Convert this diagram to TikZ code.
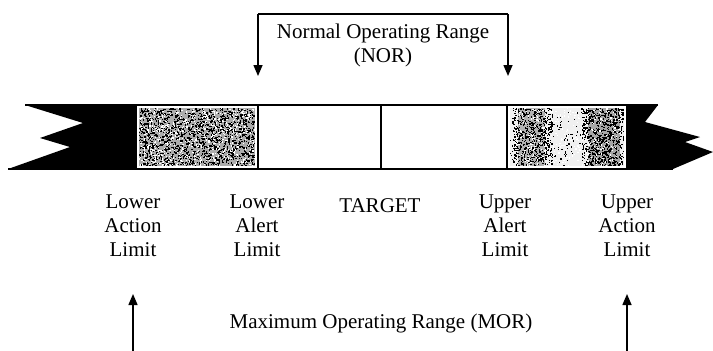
\documentclass[tikz,border=0pt]{standalone}
\usepackage{fontspec}
\setmainfont{Liberation Serif}
\usetikzlibrary{arrows.meta}
\begin{document}
\begin{tikzpicture}[x=1pt,y=-1pt,
  lbl/.style={align=center,font=\fontsize{21}{24}\selectfont,inner sep=0pt},
  arr/.style={line width=1.5pt,-{Triangle[length=11pt,width=9pt]}},
  zone/.style={draw,line width=1.2pt,minimum height=64pt,inner sep=0pt,outer sep=0pt},
  barline/.style={line width=1.2pt}]
\useasboundingbox (0,0) rectangle (713,351);
% black ends
\fill (25,105) -- (136,105) -- (136,169) -- (8,169) -- (70,147) -- (40,138) -- (83,123) -- cycle;
\fill (627,105) -- (658,105) -- (645,122) -- (700,137) -- (685,142) -- (713,152) -- (673,169) -- (627,169) -- cycle;
% shaded left box
\fill[gray!65] (139,108) rectangle (255,166);
\pgfmathsetseed{42}
\foreach \i in {1,...,1600}{\pgfmathsetmacro\xx{139+115*rnd}\pgfmathsetmacro\yy{108+57*rnd}\fill[black] (\xx,\yy) rectangle ++(1.3,1.3);}
\foreach \i in {1,...,600}{\pgfmathsetmacro\xx{139+115*rnd}\pgfmathsetmacro\yy{108+57*rnd}\fill[white] (\xx,\yy) rectangle ++(1.2,1.2);}
% shaded right box
\fill[gray!12] (510,108) rectangle (624,166);
\fill[gray!60] (518,108) rectangle (545,166);
\fill[gray!70] (588,108) rectangle (620,166);
\foreach \i in {1,...,550}{\pgfmathsetmacro\xx{512+40*rnd}\pgfmathsetmacro\yy{108+57*rnd}\fill[black] (\xx,\yy) rectangle ++(1.3,1.3);}
\foreach \i in {1,...,650}{\pgfmathsetmacro\xx{582+41*rnd}\pgfmathsetmacro\yy{108+57*rnd}\fill[black] (\xx,\yy) rectangle ++(1.3,1.3);}
\foreach \i in {1,...,250}{\pgfmathsetmacro\xx{510+113*rnd}\pgfmathsetmacro\yy{108+57*rnd}\fill[black] (\xx,\yy) rectangle ++(1.2,1.2);}
\foreach \i in {1,...,350}{\pgfmathsetmacro\xx{515+105*rnd}\pgfmathsetmacro\yy{108+57*rnd}\fill[white] (\xx,\yy) rectangle ++(1.2,1.2);}
% bar lines
\draw[barline] (25,105) -- (658,105);
\draw[barline] (8,169) -- (673,169);
% zones
\node[zone,minimum width=122pt] (zLA) at (197,137) {};
\node[zone,minimum width=123pt] (zLw) at (319.5,137) {};
\node[zone,minimum width=126pt] (zUw) at (444,137) {};
\node[zone,minimum width=120pt] (zUA) at (567,137) {};
% labels
\node[lbl] (lal) at (133,226) {Lower\\Action\\Limit};
\node[lbl] (lwl) at (257,226) {Lower\\Alert\\Limit};
\node[lbl] (tgt) at (380,206) {TARGET};
\node[lbl] (uwl) at (505,226) {Upper\\Alert\\Limit};
\node[lbl] (ual) at (627,226) {Upper\\Action\\Limit};
\node[lbl] (nor) at (383,45) {Normal Operating Range\\(NOR)};
\node[lbl] (mor) at (381,323) {Maximum Operating Range (MOR)};
% NOR arrows
\coordinate (nl) at (258,14);
\coordinate (nr) at (508,14);
\coordinate (tl) at (258,76);
\coordinate (tr) at (508,76);
\draw[line width=1.5pt] (nl) -- (nr);
\draw[arr] (nl) -- (tl);
\draw[arr] (nr) -- (tr);
% MOR arrows
\coordinate (bl) at (133,351);
\coordinate (br) at (627,351);
\coordinate (ul) at (133,294);
\coordinate (ur) at (627,294);
\draw[arr] (bl) -- (ul);
\draw[arr] (br) -- (ur);
\end{tikzpicture}
\end{document}
